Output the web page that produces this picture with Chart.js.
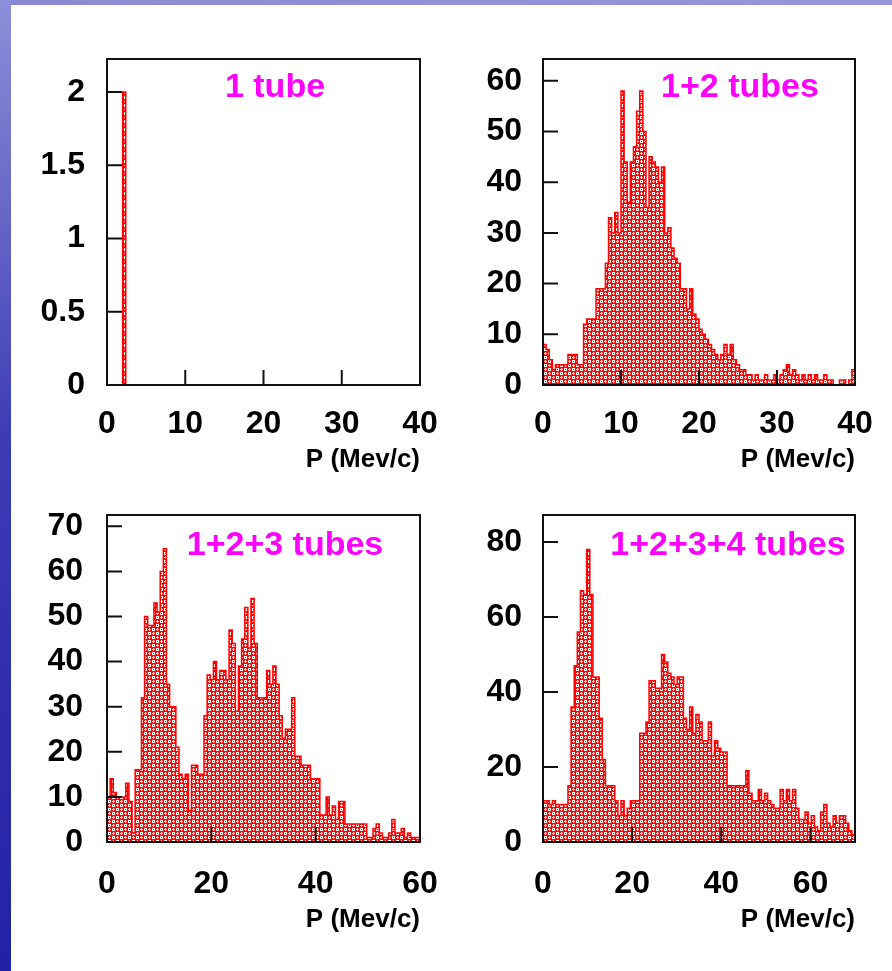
<!DOCTYPE html>
<html><head><meta charset="utf-8">
<script src="https://cdn.jsdelivr.net/npm/chart.js@4.4.1/dist/chart.umd.min.js"></script>
<style>
html,body{margin:0;padding:0;}
body{width:892px;height:971px;position:relative;overflow:hidden;background:#fff;font-family:"Liberation Sans",Arial,sans-serif;}
#left{position:absolute;left:0;top:0;width:11px;height:971px;background:linear-gradient(to bottom,#8e8ed8 0%,#6a6ac8 20%,#3c3cb6 45%,#2c2cac 75%,#2222a6 100%);}
#topbar{position:absolute;left:0;top:0;width:892px;height:5px;background:linear-gradient(to right,#8a8ad4,#9696dc);}
canvas{position:absolute;}
.ttl{position:absolute;width:400px;text-align:center;font:bold 34px "Liberation Sans",Arial,sans-serif;color:#ff00ff;line-height:34px;white-space:nowrap;}
</style></head>
<body>
<div id="topbar"></div><div id="left"></div>
<canvas id="c1" width="445" height="468" style="left:20px;top:12px"></canvas>
<canvas id="c2" width="440" height="468" style="left:460px;top:12px"></canvas>
<canvas id="c3" width="445" height="469" style="left:20px;top:468px"></canvas>
<canvas id="c4" width="440" height="469" style="left:460px;top:468px"></canvas>
<div class="ttl" id="t1" style="left:75px;top:68px"></div>
<div class="ttl" id="t2" style="left:540px;top:68px"></div>
<div class="ttl" id="t3" style="left:85px;top:526px"></div>
<div class="ttl" id="t4" style="left:528px;top:526px"></div>
<script>
// ---- data ----
const panelTitles = ['1 tube', '1+2 tubes', '1+2+3 tubes', '1+2+3+4 tubes'];
const xAxisTitle = 'P (Mev/c)';

const binWidth1 = 0.4, binWidth2 = 0.4, binWidth3 = 0.6, binWidth4 = 0.7;

const counts1 = [0,0,0,0,0,2,0,0,0,0, 0,0,0,0,0,0,0,0,0,0, 0,0,0,0,0,0,0,0,0,0, 0,0,0,0,0,0,0,0,0,0,
  0,0,0,0,0,0,0,0,0,0, 0,0,0,0,0,0,0,0,0,0, 0,0,0,0,0,0,0,0,0,0, 0,0,0,0,0,0,0,0,0,0,
  0,0,0,0,0,0,0,0,0,0, 0,0,0,0,0,0,0,0,0,0];

const counts2 = [8,7,5,3,4,4,4,4,6,6,
  6,4,4,12,13,13,13,19,19,19,
  24,33,30,34,30,58,44,36,44,47,
  54,58,50,35,45,44,43,40,43,30,
  31,27,25,24,19,19,15,19,14,13,
  11,10,9,8,7,6,5,6,8,6,
  8,5,4,3,3,2,2,1,2,1,
  1,2,1,1,2,1,2,3,4,2,
  3,2,1,2,1,2,1,2,1,1,
  2,1,1,0,0,1,1,0,1,3];

const counts3 = [10,14,11,10,10,10,13,9,2,16,
  16,32,50,48,48,53,51,60,65,35,
  30,30,21,15,14,15,7,17,17,15,
  15,28,37,36,40,36,38,38,36,47,
  44,29,39,45,52,43,54,44,32,32,
  32,38,35,39,35,28,23,25,25,32,
  19,19,17,17,17,14,14,14,6,6,
  10,6,8,5,9,9,4,4,4,4,
  4,4,4,1,1,3,4,2,1,1,
  2,5,2,2,3,1,2,1,1,1];

const counts4 = [11,11,10,11,10,10,10,10,15,36,
  47,56,67,66,78,66,44,44,33,22,
  15,15,15,11,7,11,7,9,11,11,
  11,29,29,32,43,43,41,41,50,48,
  45,44,42,44,44,33,30,36,29,34,
  32,27,27,32,23,27,25,24,24,15,
  15,15,15,15,15,19,13,11,11,14,
  11,13,11,10,9,9,14,11,14,11,
  14,9,6,6,8,5,7,4,3,8,
  10,5,4,7,5,7,7,5,3,2];

const xTicks1 = [0,10,20,30,40], yTicks1 = [0,0.5,1,1.5,2];
const xTicks2 = [0,10,20,30,40], yTicks2 = [0,10,20,30,40,50,60];
const xTicks3 = [0,20,40,60],    yTicks3 = [0,10,20,30,40,50,60,70];
const xTicks4 = [0,20,40,60],    yTicks4 = [0,20,40,60,80];

const xMax1 = 40, yMax1 = 2.225;
const xMax2 = 40, yMax2 = 64.3;
const xMax3 = 60, yMax3 = 72.5;
const xMax4 = 70, yMax4 = 87.2;

// ---- rendering ----
const FONT = '"Liberation Sans", Arial, sans-serif';

function makePattern() {
  const pc = document.createElement('canvas');
  pc.width = 8; pc.height = 8;
  const g = pc.getContext('2d');
  g.fillStyle = '#ff0000'; g.fillRect(0,0,8,8);
  g.fillStyle = '#ffffff';
  // plus-shaped holes
  const plus = (ox, oy) => { g.fillRect(ox+1,oy,1,1); g.fillRect(ox,oy+1,3,1); g.fillRect(ox+1,oy+2,1,1); };
  // ring-shaped holes
  const ring = (ox, oy) => { g.fillRect(ox,oy,3,1); g.fillRect(ox,oy+2,3,1); g.fillRect(ox,oy+1,1,1); g.fillRect(ox+2,oy+1,1,1); };
  plus(0,0); ring(4,0); ring(0,4); plus(4,4);
  return g.createPattern(pc, 'repeat');
}

function stepPoints(counts, w) {
  const pts = [{x: 0, y: 0}];
  counts.forEach((v, i) => pts.push({x: i * w, y: v}));
  pts.push({x: counts.length * w, y: counts[counts.length - 1]});
  pts.push({x: counts.length * w, y: 0});
  return pts;
}

const frameTicks = {
  id: 'frameTicks',
  afterDatasetsDraw(chart) {
    const {ctx, chartArea: a, scales: {x, y}} = chart;
    ctx.save();
    ctx.strokeStyle = '#111';
    ctx.lineWidth = 2;
    ctx.beginPath();
    x.ticks.forEach(t => { const px = x.getPixelForValue(t.value); ctx.moveTo(px, a.bottom); ctx.lineTo(px, a.bottom - 15); });
    y.ticks.forEach(t => { const py = y.getPixelForValue(t.value); ctx.moveTo(a.left, py); ctx.lineTo(a.left + 15, py); });
    ctx.stroke();
    ctx.strokeRect(a.left, a.top, a.right - a.left, a.bottom - a.top);
    ctx.restore();
  }
};

function makePanel(id, counts, w, xTicks, yTicks, xMax, yMax, geo) {
  const pattern = makePattern();
  new Chart(document.getElementById(id), {
    type: 'line',
    data: { datasets: [{
      data: stepPoints(counts, w),
      stepped: 'before',
      fill: 'origin',
      backgroundColor: pattern,
      borderColor: '#ff0000',
      borderWidth: 1.5,
      pointRadius: 0,
      tension: 0
    }]},
    options: {
      responsive: false,
      animation: false,
      layout: { padding: { left: 0, top: geo.padTop, right: geo.padRight, bottom: 0 } },
      plugins: { legend: { display: false }, tooltip: { enabled: false } },
      scales: {
        x: {
          type: 'linear', min: 0, max: xMax,
          afterBuildTicks: s => { s.ticks = xTicks.map(v => ({value: v})); },
          afterFit: s => { s.height = geo.xh; },
          grid: { display: false, drawTicks: false },
          border: { display: false },
          ticks: { autoSkip: false, maxRotation: 0, padding: geo.xPad, color: '#000',
                   callback: v => String(v),
                   font: { family: FONT, size: 32, weight: 'bold' } },
          title: { display: true, text: xAxisTitle, align: 'end', color: '#000',
                   font: { family: FONT, size: 26, weight: 'bold' },
                   padding: { top: 0, bottom: geo.titlePad } }
        },
        y: {
          type: 'linear', min: 0, max: yMax,
          afterBuildTicks: s => { s.ticks = yTicks.map(v => ({value: v})); },
          afterFit: s => { s.width = geo.yw; },
          grid: { display: false, drawTicks: false },
          border: { display: false },
          ticks: { autoSkip: false, padding: geo.yPad, color: '#000',
                   callback: v => String(v),
                   font: { family: FONT, size: 32, weight: 'bold' } }
        }
      }
    },
    plugins: [frameTicks]
  });
}

makePanel('c1', counts1, binWidth1, xTicks1, yTicks1, xMax1, yMax1,
  {padTop: 47, padRight: 45, yw: 87, xh: 95, xPad: 20, yPad: 22, titlePad: 5});
makePanel('c2', counts2, binWidth2, xTicks2, yTicks2, xMax2, yMax2,
  {padTop: 47, padRight: 45, yw: 83, xh: 95, xPad: 20, yPad: 21, titlePad: 5});
makePanel('c3', counts3, binWidth3, xTicks3, yTicks3, xMax3, yMax3,
  {padTop: 47, padRight: 45, yw: 87, xh: 95, xPad: 23, yPad: 24, titlePad: 2});
makePanel('c4', counts4, binWidth4, xTicks4, yTicks4, xMax4, yMax4,
  {padTop: 47, padRight: 45, yw: 83, xh: 95, xPad: 23, yPad: 21, titlePad: 2});

panelTitles.forEach((t, i) => { document.getElementById('t' + (i + 1)).textContent = t; });
</script>
</body></html>
